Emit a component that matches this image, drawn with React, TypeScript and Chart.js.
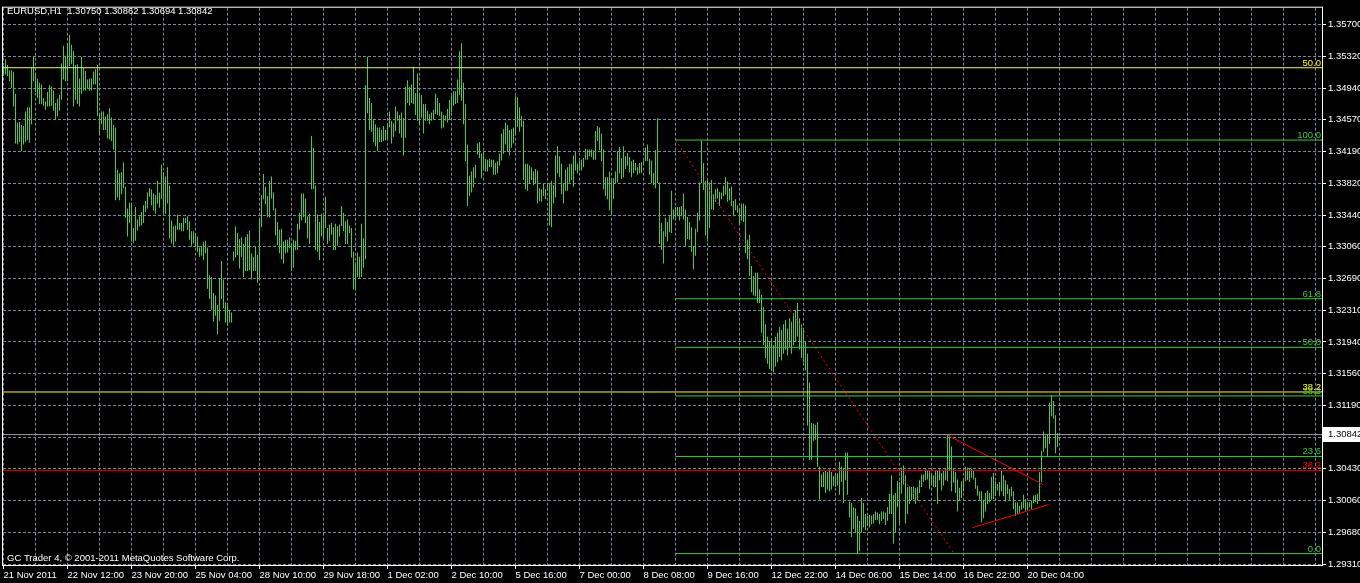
import React, { useEffect, useRef } from 'react';
import { Chart, registerables } from 'chart.js';

Chart.register(...registerables);

// ---- data: hourly EURUSD bars (high / low), bar index 0 = 21 Nov 2011 04:00 ----
const highs = [
  1.3521,1.3529,1.3522,1.3516,1.3516,1.3514,1.3488,1.3454,1.3455,1.3451,
  1.3450,1.3467,1.3472,1.3472,1.3519,1.3532,1.3513,1.3506,1.3501,1.3499,
  1.3483,1.3479,1.3490,1.3498,1.3497,1.3492,1.3477,1.3482,1.3487,1.3524,
  1.3545,1.3533,1.3548,1.3558,1.3546,1.3539,1.3522,1.3523,1.3506,1.3532,
  1.3519,1.3515,1.3505,1.3506,1.3506,1.3514,1.3517,1.3522,1.3464,1.3467,
  1.3467,1.3461,1.3464,1.3471,1.3460,1.3451,1.3448,1.3398,1.3394,1.3395,
  1.3407,1.3378,1.3352,1.3359,1.3359,1.3329,1.3354,1.3339,1.3343,1.3348,
  1.3356,1.3361,1.3371,1.3376,1.3375,1.3370,1.3368,1.3385,1.3371,1.3404,
  1.3395,1.3390,1.3401,1.3379,1.3338,1.3331,1.3332,1.3345,1.3335,1.3335,
  1.3341,1.3341,1.3343,1.3337,1.3325,1.3325,1.3323,1.3319,1.3306,1.3308,
  1.3312,1.3314,1.3306,1.3273,1.3271,1.3252,1.3249,1.3238,1.3269,1.3290,
  1.3268,1.3241,1.3238,1.3232,1.3229,1.3301,1.3331,1.3323,1.3316,1.3318,
  1.3310,1.3318,1.3322,1.3326,1.3299,1.3295,1.3307,1.3297,1.3339,1.3368,
  1.3393,1.3378,1.3367,1.3385,1.3390,1.3371,1.3352,1.3336,1.3327,1.3328,
  1.3313,1.3315,1.3315,1.3318,1.3310,1.3315,1.3314,1.3334,1.3347,1.3370,
  1.3370,1.3364,1.3343,1.3346,1.3438,1.3424,1.3379,1.3345,1.3336,1.3346,
  1.3343,1.3366,1.3329,1.3333,1.3335,1.3330,1.3334,1.3331,1.3333,1.3355,
  1.3347,1.3337,1.3339,1.3332,1.3329,1.3301,1.3288,1.3300,1.3295,1.3334,
  1.3317,1.3498,1.3532,1.3483,1.3477,1.3458,1.3452,1.3448,1.3448,1.3445,
  1.3450,1.3445,1.3452,1.3467,1.3456,1.3453,1.3473,1.3467,1.3463,1.3466,
  1.3459,1.3496,1.3504,1.3496,1.3499,1.3520,1.3489,1.3512,1.3487,1.3487,
  1.3476,1.3476,1.3468,1.3464,1.3466,1.3469,1.3488,1.3483,1.3477,1.3467,
  1.3463,1.3462,1.3470,1.3481,1.3486,1.3491,1.3491,1.3505,1.3538,1.3548,
  1.3501,1.3476,1.3428,1.3391,1.3396,1.3401,1.3404,1.3429,1.3431,1.3417,
  1.3419,1.3411,1.3410,1.3411,1.3410,1.3410,1.3406,1.3408,1.3417,1.3441,
  1.3446,1.3454,1.3451,1.3445,1.3446,1.3448,1.3485,1.3484,1.3472,1.3462,
  1.3456,1.3405,1.3405,1.3403,1.3401,1.3396,1.3399,1.3397,1.3376,1.3375,
  1.3381,1.3375,1.3382,1.3382,1.3385,1.3380,1.3415,1.3426,1.3414,1.3405,
  1.3382,1.3398,1.3401,1.3405,1.3405,1.3415,1.3419,1.3405,1.3409,1.3410,
  1.3412,1.3423,1.3422,1.3422,1.3422,1.3421,1.3444,1.3450,1.3448,1.3441,
  1.3422,1.3389,1.3389,1.3396,1.3386,1.3388,1.3396,1.3420,1.3425,1.3412,
  1.3426,1.3414,1.3418,1.3413,1.3408,1.3410,1.3406,1.3401,1.3406,1.3407,
  1.3409,1.3424,1.3428,1.3411,1.3409,1.3394,1.3421,1.3459,1.3383,1.3335,
  1.3325,1.3341,1.3336,1.3343,1.3373,1.3351,1.3354,1.3354,1.3354,1.3355,
  1.3370,1.3351,1.3342,1.3336,1.3330,1.3307,1.3328,1.3347,1.3383,1.3433,
  1.3406,1.3385,1.3386,1.3383,1.3386,1.3369,1.3375,1.3376,1.3372,1.3371,
  1.3379,1.3389,1.3384,1.3376,1.3378,1.3361,1.3363,1.3356,1.3351,1.3358,
  1.3358,1.3356,1.3315,1.3321,1.3284,1.3272,1.3276,1.3276,1.3256,1.3250,
  1.3235,1.3215,1.3200,1.3195,1.3198,1.3190,1.3200,1.3205,1.3212,1.3208,
  1.3215,1.3220,1.3210,1.3222,1.3218,1.3228,1.3232,1.3240,1.3222,1.3215,
  1.3210,1.3195,1.3180,1.3146,1.3098,1.3097,1.3096,1.3099,1.3046,1.3037,
  1.3040,1.3041,1.3040,1.3043,1.3040,1.3035,1.3037,1.3038,1.3052,1.3046,
  1.3044,1.3063,1.3063,1.3005,1.3003,1.2998,1.2997,1.2988,1.2982,1.3009,
  1.3003,1.2990,1.2988,1.2989,1.2988,1.2990,1.2993,1.2992,1.2990,1.2993,
  1.2993,1.2992,1.2998,1.3014,1.3036,1.3013,1.3015,1.3029,1.3028,1.3045,
  1.3048,1.3036,1.3022,1.3023,1.3022,1.3023,1.3021,1.3022,1.3030,1.3037,
  1.3037,1.3043,1.3041,1.3041,1.3037,1.3036,1.3041,1.3041,1.3043,1.3039,
  1.3041,1.3044,1.3084,1.3083,1.3070,1.3044,1.3040,1.3031,1.3021,1.3029,
  1.3032,1.3046,1.3045,1.3044,1.3044,1.3041,1.3033,1.3024,1.3017,1.3017,
  1.3007,1.3015,1.3018,1.3015,1.3034,1.3039,1.3029,1.3026,1.3028,1.3041,
  1.3036,1.3030,1.3025,1.3020,1.3022,1.3017,1.3004,1.3004,1.3000,1.3004,
  1.3013,1.3008,1.3004,1.3004,1.3006,1.3012,1.3013,1.3014,1.3040,1.3065,
  1.3088,1.3083,1.3084,1.3122,1.3131,1.3124,1.3107,1.30862,
];

const lows = [
  1.3509,1.3511,1.3509,1.3503,1.3495,1.3473,1.3429,1.3428,1.3431,1.3420,
  1.3428,1.3431,1.3433,1.3430,1.3452,1.3503,1.3490,1.3483,1.3476,1.3476,
  1.3474,1.3469,1.3473,1.3473,1.3474,1.3468,1.3458,1.3461,1.3468,1.3481,
  1.3505,1.3503,1.3503,1.3521,1.3523,1.3473,1.3481,1.3476,1.3473,1.3488,
  1.3492,1.3492,1.3494,1.3492,1.3492,1.3499,1.3499,1.3462,1.3440,1.3452,
  1.3445,1.3445,1.3435,1.3434,1.3432,1.3422,1.3362,1.3365,1.3362,1.3369,
  1.3376,1.3341,1.3319,1.3335,1.3313,1.3311,1.3314,1.3326,1.3331,1.3332,
  1.3335,1.3348,1.3352,1.3366,1.3356,1.3350,1.3346,1.3358,1.3353,1.3363,
  1.3347,1.3346,1.3358,1.3317,1.3311,1.3308,1.3313,1.3327,1.3327,1.3325,
  1.3325,1.3335,1.3327,1.3315,1.3307,1.3311,1.3307,1.3301,1.3295,1.3296,
  1.3291,1.3299,1.3257,1.3245,1.3232,1.3218,1.3225,1.3203,1.3219,1.3245,
  1.3234,1.3217,1.3213,1.3217,1.3217,1.3290,1.3294,1.3297,1.3281,1.3295,
  1.3271,1.3278,1.3278,1.3279,1.3268,1.3278,1.3278,1.3264,1.3270,1.3330,
  1.3363,1.3357,1.3342,1.3341,1.3364,1.3350,1.3320,1.3309,1.3299,1.3292,
  1.3287,1.3299,1.3300,1.3305,1.3278,1.3282,1.3303,1.3303,1.3327,1.3338,
  1.3342,1.3335,1.3317,1.3310,1.3375,1.3375,1.3303,1.3301,1.3291,1.3319,
  1.3317,1.3329,1.3310,1.3314,1.3321,1.3303,1.3303,1.3308,1.3319,1.3331,
  1.3325,1.3310,1.3310,1.3323,1.3294,1.3256,1.3257,1.3271,1.3270,1.3271,
  1.3282,1.3292,1.3465,1.3445,1.3443,1.3431,1.3426,1.3420,1.3431,1.3431,
  1.3432,1.3433,1.3435,1.3448,1.3429,1.3437,1.3444,1.3456,1.3441,1.3436,
  1.3415,1.3436,1.3477,1.3474,1.3477,1.3476,1.3463,1.3456,1.3452,1.3460,
  1.3441,1.3456,1.3456,1.3452,1.3456,1.3458,1.3464,1.3463,1.3462,1.3447,
  1.3448,1.3456,1.3454,1.3458,1.3466,1.3474,1.3476,1.3477,1.3487,1.3480,
  1.3452,1.3408,1.3355,1.3367,1.3371,1.3377,1.3388,1.3416,1.3412,1.3388,
  1.3397,1.3396,1.3396,1.3401,1.3401,1.3392,1.3392,1.3394,1.3403,1.3409,
  1.3417,1.3428,1.3419,1.3415,1.3424,1.3429,1.3440,1.3449,1.3443,1.3449,
  1.3386,1.3375,1.3373,1.3381,1.3386,1.3380,1.3382,1.3358,1.3361,1.3360,
  1.3367,1.3363,1.3373,1.3332,1.3330,1.3358,1.3365,1.3394,1.3389,1.3369,
  1.3358,1.3373,1.3373,1.3383,1.3386,1.3378,1.3397,1.3394,1.3397,1.3397,
  1.3401,1.3410,1.3410,1.3414,1.3413,1.3410,1.3410,1.3432,1.3421,1.3408,
  1.3375,1.3367,1.3363,1.3350,1.3346,1.3363,1.3382,1.3383,1.3394,1.3387,
  1.3389,1.3399,1.3403,1.3395,1.3389,1.3394,1.3397,1.3392,1.3394,1.3394,
  1.3405,1.3408,1.3408,1.3392,1.3382,1.3380,1.3376,1.3382,1.3310,1.3303,
  1.3287,1.3319,1.3313,1.3324,1.3323,1.3339,1.3341,1.3343,1.3338,1.3343,
  1.3339,1.3308,1.3316,1.3315,1.3301,1.3280,1.3296,1.3324,1.3338,1.3382,
  1.3374,1.3320,1.3313,1.3329,1.3351,1.3350,1.3360,1.3364,1.3355,1.3363,
  1.3367,1.3369,1.3360,1.3362,1.3355,1.3343,1.3350,1.3347,1.3334,1.3338,
  1.3336,1.3299,1.3292,1.3272,1.3253,1.3249,1.3248,1.3240,1.3240,1.3205,
  1.3190,1.3175,1.3168,1.3162,1.3160,1.3158,1.3165,1.3170,1.3176,1.3172,
  1.3180,1.3185,1.3178,1.3188,1.3180,1.3190,1.3195,1.3200,1.3185,1.3175,
  1.3170,1.3160,1.3095,1.3054,1.3054,1.3077,1.3078,1.3046,1.3007,1.3022,
  1.3022,1.3015,1.3019,1.3017,1.3019,1.3023,1.3022,1.3024,1.3013,1.3028,
  1.3003,1.3030,1.3013,1.2986,1.2963,1.2972,1.2968,1.2943,1.2946,1.2968,
  1.2974,1.2971,1.2976,1.2974,1.2978,1.2979,1.2983,1.2983,1.2978,1.2982,
  1.2984,1.2977,1.2982,1.2990,1.2990,1.2955,1.2968,1.2998,1.2979,1.3014,
  1.3025,1.2979,1.2990,1.3002,1.3007,1.3008,1.3002,1.3006,1.3015,1.3022,
  1.3028,1.3030,1.3031,1.3020,1.3026,1.3022,1.3022,1.3002,1.3030,1.3018,
  1.3024,1.3030,1.3029,1.3041,1.3017,1.3027,1.3015,1.2993,1.3006,1.3009,
  1.3017,1.3029,1.3030,1.3028,1.3033,1.3031,1.3020,1.3012,1.3007,1.2980,
  1.2985,1.2993,1.3002,1.3004,1.3007,1.3008,1.3011,1.3018,1.3011,1.3017,
  1.3011,1.3005,1.3014,1.3007,1.3011,1.2996,1.2988,1.2990,1.2990,1.2995,
  1.2997,1.2994,1.2995,1.2998,1.2996,1.3003,1.3004,1.3002,1.3006,1.3028,
  1.3064,1.3068,1.3058,1.3073,1.3106,1.3103,1.3062,1.30694,
];

const timeLabels = [
  '21 Nov 2011', '22 Nov 12:00', '23 Nov 20:00', '25 Nov 04:00', '28 Nov 10:00',
  '29 Nov 18:00', '1 Dec 02:00', '2 Dec 10:00', '5 Dec 16:00', '7 Dec 00:00',
  '8 Dec 08:00', '9 Dec 16:00', '12 Dec 22:00', '14 Dec 06:00', '15 Dec 14:00',
  '16 Dec 22:00', '20 Dec 04:00',
];
const timeLabelBars = [0, 32, 64, 96, 128, 160, 192, 224, 256, 288, 320, 352, 384, 416, 448, 480, 512];
const gridBars = [
  0, 16, 32, 48, 64, 80, 96, 112, 128, 144, 160, 176, 192, 208, 224, 240, 256, 272, 288, 304,
  320, 336, 352, 368, 384, 400, 416, 432, 448, 464, 480, 496, 512, 528, 544, 560, 576, 592,
  608, 624, 640, 656,
];

// grid line prices and their (rounded) labels as printed on the price axis
const priceTicks = [
  1.357, 1.35324, 1.34948, 1.34572, 1.34196, 1.3382, 1.33444, 1.33068, 1.32692,
  1.32316, 1.3194, 1.31564, 1.31188, 1.30812, 1.30436, 1.3006, 1.29684, 1.29308,
];
const priceTickLabels = [
  '1.35700', '1.35320', '1.34940', '1.34570', '1.34190', '1.33820', '1.33440', '1.33060', '1.32690',
  '1.32310', '1.31940', '1.31560', '1.31190', '1.30810', '1.30430', '1.30060', '1.29680', '1.29310',
];

const headerText = 'EURUSD,H1  1.30750 1.30862 1.30694 1.30842';
const copyrightText = 'GC Trader 4, \u00a9 2001-2011 MetaQuotes Software Corp.';

const bidPrice = 1.30842;
const bidLabel = '1.30842';

const fiboLevelLabels = ['0.0', '23.6', '38.2', '50.0', '61.8', '100.0'];
const fiboLevelPrices = [1.29432, 1.30583, 1.313, 1.31876, 1.32452, 1.34332];
const fiboStartBar = 336;
const fiboTrend = [{ x: 336, y: 1.34332 }, { x: 475.25, y: 1.29432 }];

const yellowLevelLabels = ['50.0', '38.2'];
const yellowLevelPrices = [1.35189, 1.31347];
const redLevelLabels = ['38.2'];
const redLevelPrices = [1.30419];

const triangleUpper = [{ x: 471.9, y: 1.30836 }, { x: 519.9, y: 1.30249 }];
const triangleLower = [{ x: 484.6, y: 1.2974 }, { x: 522.6, y: 1.30014 }];

const X_MIN = -0.25;
const X_MAX = 659.25;
const Y_MIN = 1.2929681;
const Y_MAX = 1.3590034;

const BAR_COLOR = '#34d834';
const FIBO_COLOR = '#32cd32';
const GRID_COLOR = '#778899';
const FONT_FAMILY = '"Liberation Sans", Arial, sans-serif';
const FONT_SIZE = 9.5;

export default function App() {
  const canvasRef = useRef<HTMLCanvasElement | null>(null);

  useEffect(() => {
    const canvas = canvasRef.current;
    if (!canvas) return;
    document.body.style.margin = '0';
    document.body.style.background = '#000';

    const hLine = (price: number, from: number) => [
      { x: from, y: price },
      { x: X_MAX, y: price },
    ];
    const lineDs = (data: any[], color: string, dash: number[] = []) => ({
      type: 'line' as const,
      data,
      borderColor: color,
      backgroundColor: color,
      borderWidth: 1,
      borderDash: dash,
      pointRadius: 0,
      fill: false,
      tension: 0,
      order: 1,
    });

    const datasets: any[] = [
      {
        type: 'bar',
        data: highs.map((h, i) => ({ x: i, y: [lows[i], h] })),
        backgroundColor: BAR_COLOR,
        borderWidth: 0,
        barThickness: 1,
        inflateAmount: 0,
        order: 10,
      },
      lineDs(hLine(bidPrice, X_MIN), '#a0a0a0'),
      ...yellowLevelPrices.map((p) => lineDs(hLine(p, X_MIN), '#ffff00')),
      ...redLevelPrices.map((p) => lineDs(hLine(p, X_MIN), '#ff0000')),
      ...fiboLevelPrices.map((p) => lineDs(hLine(p, fiboStartBar), FIBO_COLOR)),
      lineDs(fiboTrend, '#ff0000', [2, 3]),
      lineDs(triangleUpper, '#ff0000'),
      lineDs(triangleLower, '#ff0000'),
    ];

    const font = `${FONT_SIZE}px ${FONT_FAMILY}`;

    const decor = {
      id: 'mt4decor',
      beforeDraw(chart: any) {
        const ctx = chart.ctx;
        ctx.save();
        ctx.fillStyle = '#000';
        ctx.fillRect(0, 0, chart.width, chart.height);
        ctx.restore();
      },
      afterDatasetsDraw(chart: any) {
        const ctx = chart.ctx;
        const ys = chart.scales.y;
        const right = chart.chartArea.right - 1;
        ctx.save();
        ctx.font = font;
        ctx.textAlign = 'right';
        ctx.textBaseline = 'alphabetic';
        const put = (labels: string[], prices: number[], color: string) => {
          ctx.fillStyle = color;
          labels.forEach((t, i) => {
            const y = Math.round(ys.getPixelForValue(prices[i]));
            ctx.fillText(t, right, y - 2);
          });
        };
        put(fiboLevelLabels, fiboLevelPrices, FIBO_COLOR);
        put(yellowLevelLabels, yellowLevelPrices, '#ffff00');
        put(redLevelLabels, redLevelPrices, '#ff0000');
        ctx.restore();
      },
      afterDraw(chart: any) {
        const ctx = chart.ctx;
        const a = chart.chartArea;
        const ys = chart.scales.y;
        ctx.save();
        ctx.strokeStyle = '#ffffff';
        ctx.lineWidth = 1;
        ctx.strokeRect(a.left - 0.5, a.top - 0.5, a.right - a.left + 1, a.bottom - a.top + 1);
        ctx.font = font;
        ctx.fillStyle = '#ffffff';
        ctx.textAlign = 'left';
        ctx.textBaseline = 'alphabetic';
        ctx.fillText(headerText, 7, 14);
        ctx.fillText(copyrightText, 7, 561);
        const by = Math.floor(ys.getPixelForValue(bidPrice));
        ctx.fillStyle = '#ffffff';
        ctx.fillRect(a.right + 1, by - 7, chart.width - a.right - 1, 15);
        ctx.fillStyle = '#000000';
        ctx.textBaseline = 'middle';
        ctx.fillText(bidLabel, a.right + 6, by + 0.5);
        ctx.restore();
      },
    };

    const chart = new Chart(canvas, {
      type: 'bar',
      data: { datasets },
      plugins: [decor],
      options: {
        responsive: false,
        maintainAspectRatio: false,
        devicePixelRatio: 1,
        animation: false,
        events: [],
        layout: { padding: { left: 3, top: 3, right: 0, bottom: 0 } },
        plugins: {
          legend: { display: false },
          tooltip: { enabled: false },
          title: { display: false },
        },
        scales: {
          x: {
            type: 'linear',
            min: X_MIN,
            max: X_MAX,
            offset: false,
            afterBuildTicks: (s: any) => {
              s.ticks = gridBars.map((v) => ({ value: v }));
            },
            afterFit: (s: any) => {
              s.height = 18;
            },
            grid: {
              offset: false,
              color: GRID_COLOR,
              lineWidth: 1,
              drawTicks: true,
              tickLength: 4,
              tickColor: (c: any) =>
                c.tick && timeLabelBars.includes(c.tick.value) ? '#ffffff' : 'rgba(0,0,0,0)',
            },
            border: { display: false, dash: [3, 2] },
            ticks: {
              autoSkip: false,
              maxRotation: 0,
              minRotation: 0,
              align: 'start',
              padding: 1,
              color: '#ffffff',
              font: { family: FONT_FAMILY, size: FONT_SIZE },
              callback: (value: any) => {
                const idx = timeLabelBars.indexOf(Number(value));
                return idx >= 0 ? timeLabels[idx] : '';
              },
            },
          },
          y: {
            type: 'linear',
            position: 'right',
            min: Y_MIN,
            max: Y_MAX,
            afterBuildTicks: (s: any) => {
              s.ticks = priceTicks.map((v) => ({ value: v }));
            },
            afterFit: (s: any) => {
              s.width = 38;
            },
            grid: {
              color: GRID_COLOR,
              lineWidth: 1,
              drawTicks: true,
              tickLength: 4,
              tickColor: '#ffffff',
            },
            border: { display: false, dash: [3, 2] },
            ticks: {
              padding: 2,
              color: '#ffffff',
              font: { family: FONT_FAMILY, size: FONT_SIZE },
              callback: (_v: any, i: number) => priceTickLabels[i],
            },
          },
        },
      } as any,
    });

    return () => {
      chart.destroy();
    };
  }, []);

  return (
    <div
      style={{
        position: 'fixed',
        left: 0,
        top: 0,
        width: 1360,
        height: 583,
        background: '#000',
      }}
    >
      <canvas ref={canvasRef} width={1360} height={583} style={{ display: 'block' }} />
    </div>
  );
}
